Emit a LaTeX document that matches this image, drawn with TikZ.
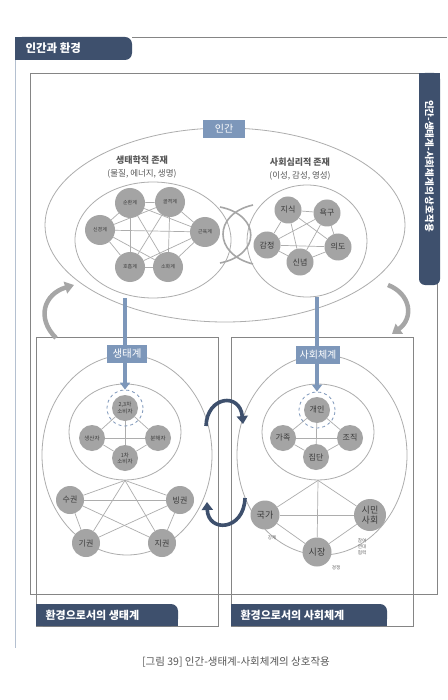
\documentclass[tikz,border=0pt]{standalone}
\usepackage{fontspec}
\setmainfont{Noto Sans CJK KR}
\usetikzlibrary{arrows.meta,shapes.geometric}
\definecolor{tabnavy}{HTML}{3E506D}
\definecolor{steel}{HTML}{7D97BA}
\definecolor{bubble}{HTML}{A4A4A4}
\definecolor{wire}{HTML}{ADADAD}
\definecolor{frame}{HTML}{858585}
\definecolor{ink}{HTML}{3B3B3B}
\definecolor{swirl}{HTML}{A6A6A6}
\definecolor{pagerule}{HTML}{B4C0D0}
\pgfdeclarelayer{bg}
\pgfsetlayers{bg,main}
\tikzset{
  fs/.style={font=\fontsize{#1}{#1}\selectfont},
  fsb/.style={font=\fontsize{#1}{#1}\selectfont\bfseries},
  bub/.style={circle, fill=bubble, inner sep=0pt, minimum size=#1, text=ink, align=center},
  wire/.style={draw=wire, line width=0.7pt},
  oval/.style={ellipse, draw=wire, line width=0.8pt, inner sep=0pt},
  boxline/.style={draw=frame, line width=0.7pt},
  tag/.style={fill=steel, text=white, inner sep=2pt, minimum height=18},
  flow/.style={draw=steel, line width=3.4pt, -{Triangle[length=7pt,width=10pt]}},
  turn/.style={draw=tabnavy, line width=3.6pt, -{Triangle[length=8pt,width=11pt]}},
  side/.style={draw=swirl, line width=4.5pt, -{Triangle[length=9pt,width=12pt]}},
  note/.style={fs=4.6, text=ink!80, align=center, inner sep=0pt}
}
\begin{document}
\begin{tikzpicture}[x=1pt,y=-1pt]
\useasboundingbox (0,0) rectangle (447,700);
\begin{pgfonlayer}{bg}
\fill[white] (0,0) rectangle (447,700);
\end{pgfonlayer}

% page rules and header tab
\draw[pagerule, line width=0.8pt] (15,37) -- (15,648);
\draw[frame, line width=0.6pt] (132,37) -- (447,37);
\fill[tabnavy, rounded corners=7] (15,37) rectangle (132,60);
\fill[tabnavy] (15,37) rectangle (40,60);
\node[fsb=11.5, text=white, anchor=west] (hdr) at (22,48.5) {인간과 환경};

% main frame and side tab
\draw[boxline] (30,73) rectangle (437,594);
\fill[tabnavy, rounded corners=6] (419,73) rectangle (440,285);
\fill[tabnavy] (419,73) rectangle (440,95);
\node[fsb=9.5, text=white, rotate=-90] (sidetitle) at (429.5,166) {인간-생태계-사회체계의 상호작용};

% lower boxes and their tabs
\draw[boxline] (36,337) rectangle (218,626);
\draw[boxline] (231,337) rectangle (413,626);
\fill[tabnavy, rounded corners=7] (36,604) rectangle (178,626);
\fill[tabnavy] (36,604) rectangle (60,626);
\fill[tabnavy] (36,615) rectangle (178,626);
\node[fsb=11, text=white, anchor=west] (envbio) at (42,615.5) {환경으로서의 생태계};
\fill[tabnavy, rounded corners=7] (231,604) rectangle (387,626);
\fill[tabnavy] (231,604) rectangle (255,626);
\fill[tabnavy] (231,615) rectangle (387,626);
\node[fsb=11, text=white, anchor=west] (envsoc) at (237,615.5) {환경으로서의 사회체계};

% caption
\node[fs=10.5, text=ink!85] (cap) at (236,662) {[그림 39] 인간-생태계-사회체계의 상호작용};

% ---------- human ----------
\node[oval, minimum width=360, minimum height=194] (human) at (225,225) {};
\node[oval, minimum width=156, minimum height=116] (bio) at (153,240) {};
\node[oval, minimum width=120, minimum height=112] (psy) at (307,241) {};
\node[tag, fs=10, minimum width=42] (humantag) at (224,129) {인간};

\node[fsb=9, text=ink!85] (biot) at (142,160) {생태학적 존재};
\node[fs=8.5, text=ink!85] (bios) at (142,173.5) {(물질, 에너지, 생명)};
\node[fsb=9, text=ink!85] (psyt) at (300,162) {사회심리적 존재};
\node[fs=8.5, text=ink!85] (psys) at (300,175.5) {(이성, 감성, 영성)};

% interlocking link between the two beings
\draw[swirl, line width=1.6pt] (220,207) .. controls (261,215) and (261,255) .. (220,263);
\draw[swirl, line width=1.6pt] (253,205) .. controls (213,214) and (213,254) .. (253,264);

% body systems
\node[bub=30, fs=5] (a1) at (130,203) {순환계};
\node[bub=30, fs=5] (a2) at (170,202) {골격계};
\node[bub=30, fs=5] (a3) at (100,230) {신경계};
\node[bub=30, fs=5] (a4) at (205,232) {근육계};
\node[bub=30, fs=5] (a5) at (130,267) {호흡계};
\node[bub=30, fs=5] (a6) at (168,267) {소화계};
\begin{pgfonlayer}{bg}
\foreach \p/\q in {a1/a2,a1/a3,a1/a4,a1/a5,a1/a6,a2/a3,a2/a4,a2/a5,a2/a6,a3/a4,a3/a5,a3/a6,a4/a5,a4/a6,a5/a6}
  \draw[wire] (\p) -- (\q);
\end{pgfonlayer}

% mind
\node[bub=27, fs=8] (b1) at (288,210) {지식};
\node[bub=27, fs=8] (b2) at (327,213) {욕구};
\node[bub=27, fs=8] (b3) at (267,245) {감정};
\node[bub=27, fs=8] (b4) at (338,247) {의도};
\node[bub=27, fs=8] (b5) at (300,262) {신념};
\begin{pgfonlayer}{bg}
\foreach \p/\q in {b1/b2,b1/b3,b1/b4,b1/b5,b2/b3,b2/b4,b2/b5,b3/b4,b3/b5,b4/b5}
  \draw[wire] (\p) -- (\q);
\end{pgfonlayer}

% side return arrows
\coordinate (lsa) at (56,338);
\coordinate (lsb) at (74,285);
\coordinate (rsa) at (388,285);
\coordinate (rsb) at (392,334);
\draw[side] (lsa) .. controls (36,318) and (44,294) .. (lsb);
\draw[side] (rsa) .. controls (411,294) and (414,318) .. (rsb);

% ---------- ecosystem ----------
\node[oval, minimum width=170, minimum height=200] (eco) at (127,455) {};
\node[oval, minimum width=112, minimum height=96] (ecoin) at (125,432) {};
\node[bub=26, fs=5.5] (c1) at (125,408) {2,3차\\[0.5pt]소비자};
\node[circle, draw=steel, dashed, line width=0.8pt, minimum size=36, inner sep=0pt] (ring1) at (c1) {};
\node[bub=26, fs=5.5] (c2) at (92,438) {생산자};
\node[bub=26, fs=5.5] (c3) at (158,438) {분해자};
\node[bub=26, fs=5.5] (c4) at (125,458) {1차\\[0.5pt]소비자};
\node[bub=28, fs=8] (d1) at (70,500) {수권};
\node[bub=28, fs=8] (d2) at (180,500) {빙권};
\node[bub=28, fs=8] (d3) at (86,543) {기권};
\node[bub=28, fs=8] (d4) at (162,543) {지권};
\begin{pgfonlayer}{bg}
\foreach \p/\q in {c1/c2,c1/c3,c1/c4,c2/c3,c2/c4,c3/c4}
  \draw[wire] (\p) -- (\q);
\foreach \q in {d1,d2,d3,d4}
  \draw[wire] (ecoin.south) -- (\q);
\foreach \p/\q in {d1/d2,d1/d4,d2/d3,d1/d3,d2/d4}
  \draw[wire] (\p) -- (\q);
\end{pgfonlayer}

% ---------- social system ----------
\node[oval, minimum width=170, minimum height=200] (soc) at (322,455) {};
\node[oval, minimum width=112, minimum height=96] (socin) at (318,432) {};
\node[bub=26, fs=8] (e1) at (317,410) {개인};
\node[circle, draw=steel, dashed, line width=0.8pt, minimum size=36, inner sep=0pt] (ring2) at (e1) {};
\node[bub=26, fs=8] (e2) at (283,438) {가족};
\node[bub=26, fs=8] (e3) at (350,438) {조직};
\node[bub=26, fs=8] (e4) at (316,457) {집단};
\node[bub=29, fs=9] (f1) at (265,515) {국가};
\node[bub=32, fs=9] (f2) at (370,515) {시민\\[1pt]사회};
\node[bub=29, fs=9] (f3) at (317,552) {시장};
\node[note] (n1) at (272,538) {강제};
\node[note] (n3) at (336,568) {경쟁};
\node[note] (n2) at (362,547) {참여\\[1.5pt]연대\\[1.5pt]협력};
\begin{pgfonlayer}{bg}
\foreach \p/\q in {e1/e2,e1/e3,e1/e4,e2/e3,e2/e4,e3/e4}
  \draw[wire] (\p) -- (\q);
\foreach \q in {f1,f2,f3}
  \draw[wire] (socin.south) -- (\q);
\foreach \p/\q in {f1/f2,f1/f3,f3/f2}
  \draw[wire] (\p) -- (\q);
\end{pgfonlayer}

% descending links from the human to both systems
\draw[flow] (bio.south -| ring1.north) -- (ring1.north);
\draw[flow] (psy.south -| ring2.north) -- (ring2.north);
\node[tag, fs=10.5, minimum width=40] (ecotag) at (127,354) {생태계};
\node[tag, fs=10, minimum width=44] (soctag) at (318,355) {사회체계};

% mutual exchange between the systems
\coordinate (ta) at (206,426);
\coordinate (tb) at (243,424);
\coordinate (ba) at (245,498);
\coordinate (bb) at (207,502);
\draw[turn] (ta) .. controls (207,396) and (240,392) .. (tb);
\draw[turn] (ba) .. controls (244,531) and (208,533) .. (bb);
\end{tikzpicture}
\end{document}
